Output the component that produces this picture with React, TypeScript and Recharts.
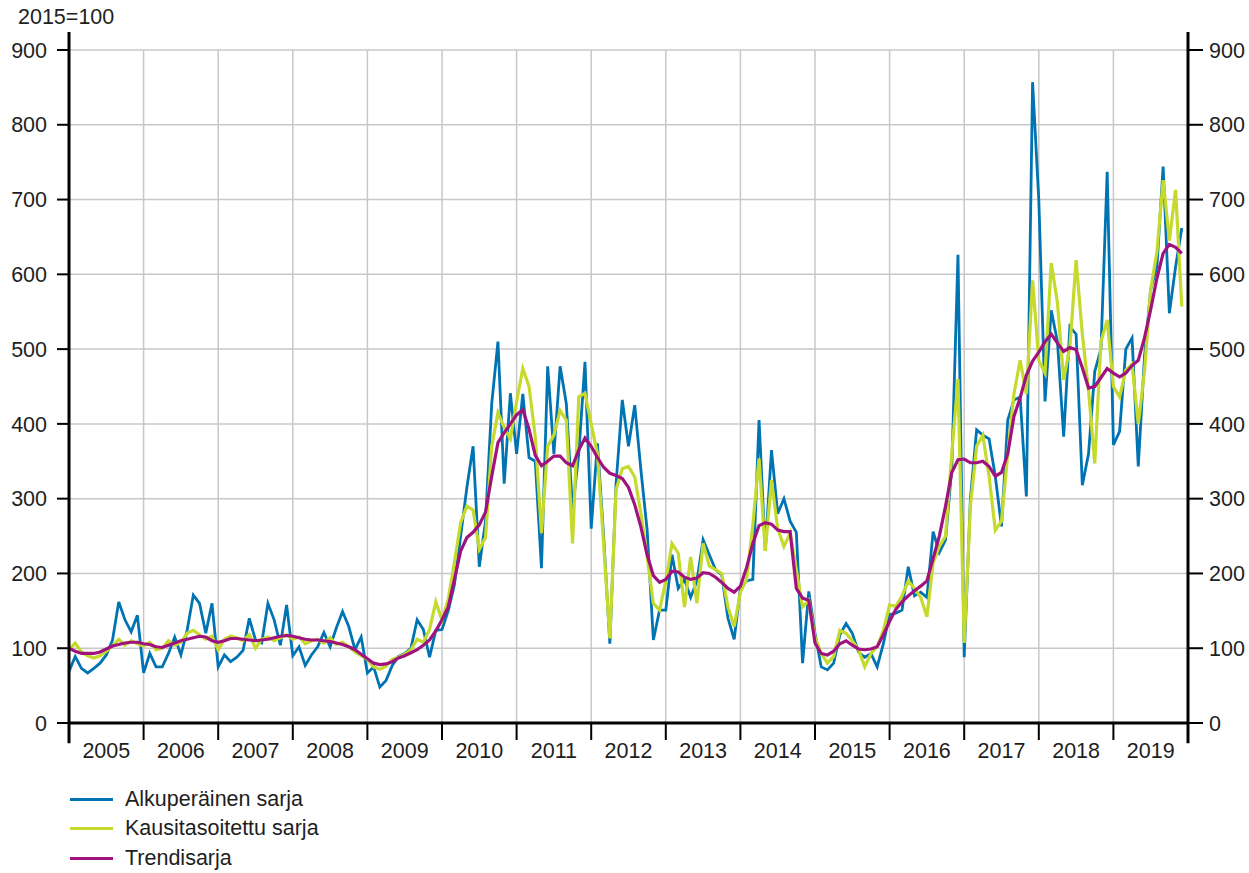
import React from "react";
import { LineChart, Line, XAxis, YAxis, CartesianGrid, ReferenceLine, Legend } from "recharts";

const years = ["2005", "2006", "2007", "2008", "2009", "2010", "2011", "2012", "2013", "2014", "2015", "2016", "2017", "2018", "2019"];
const valueTicks = [0, 100, 200, 300, 400, 500, 600, 700, 800, 900];

// monthly values, Jan 2005 .. Dec 2019
const alkuperainen = [
  69, 89, 73, 67, 73, 80, 91, 111, 162, 138, 122, 144,
  67, 93, 75, 75, 93, 115, 91, 124, 171, 160, 120, 160,
  75, 91, 82, 88, 97, 140, 111, 107, 160, 138, 104, 158,
  90, 102, 77, 91, 102, 121, 102, 127, 149, 129, 98, 115,
  67, 75, 48, 57, 77, 89, 93, 100, 138, 125, 88, 124,
  125, 150, 185, 250, 315, 370, 209, 270, 427, 510, 320, 441,
  360, 440, 355, 350, 207, 477, 360, 477, 427, 285, 360, 483,
  260, 374, 250, 106, 320, 432, 370, 425, 338, 258, 111, 151,
  151, 225, 180, 192, 168, 190, 245, 225, 205, 198, 140, 112,
  180, 190, 192, 405, 230, 365, 280, 300, 270, 255, 80, 176,
  120, 75, 71, 80, 118, 133, 120, 95, 88, 93, 75, 106,
  145, 147, 151, 209, 170, 175, 168, 256, 228, 245, 340, 626,
  88, 300, 392, 385, 380, 330, 263, 405, 432, 436, 303, 857,
  700, 430, 552, 510, 383, 530, 520, 318, 360, 470, 500, 737,
  372, 390, 500, 515, 343, 490, 580, 610, 744, 548, 610, 662,
];

const kausitasoitettu = [
  98, 107, 95, 90, 87, 90, 96, 103, 112, 104, 110, 106,
  103, 108, 98, 100, 110, 104, 108, 120, 124, 118, 112, 116,
  98, 112, 116, 114, 110, 118, 100, 112, 115, 110, 114, 118,
  112, 115, 106, 110, 112, 107, 114, 105, 108, 102, 95, 90,
  85, 75, 72, 76, 85, 88, 92, 98, 112, 108, 125, 162,
  138, 165, 215, 268, 290, 285, 232, 248, 370, 415, 395, 380,
  430, 474, 450, 383, 254, 370, 385, 418, 405, 240, 436, 441,
  400, 360, 240, 113, 312, 340, 343, 329, 280, 222, 160, 151,
  190, 240, 227, 155, 222, 160, 240, 210, 205, 200, 155, 129,
  175, 192, 265, 354, 230, 325, 260, 236, 254, 205, 155, 164,
  115, 93, 80, 89, 124, 120, 110, 98, 75, 93, 102, 124,
  158, 156, 170, 190, 180, 168, 142, 214, 236, 250, 360, 460,
  107, 290, 370, 385, 330, 258, 270, 360, 440, 485, 440, 592,
  485, 468, 615, 562, 459, 503, 619, 520, 445, 347, 510, 539,
  450, 436, 472, 480, 400, 470, 580, 630, 726, 645, 713, 557,
];

const trendi = [
  100, 96, 93, 93, 93, 95, 99, 103, 105, 107, 108, 108,
  106, 105, 102, 101, 104, 107, 110, 112, 114, 116, 115, 110,
  108, 110, 113, 113, 112, 111, 110, 111, 112, 114, 116, 117,
  116, 114, 112, 111, 111, 110, 109, 107, 105, 102, 98, 92,
  86, 80, 78, 79, 82, 87, 90, 94, 98, 104, 111, 123,
  138, 155, 192, 230, 248, 255, 265, 282, 330, 375, 388, 400,
  412, 419, 393, 358, 344, 350, 357, 357, 348, 344, 365, 381,
  370, 355, 342, 334, 331, 327, 315, 292, 262, 225, 197, 188,
  192, 203, 202, 195, 192, 194, 201, 200, 195, 188, 180, 175,
  183, 208, 240, 264, 268, 266, 258, 256, 256, 180, 167, 164,
  107, 93, 91, 96, 106, 110, 104, 99, 98, 99, 102, 118,
  136, 152, 162, 170, 177, 183, 190, 220, 250, 290, 335, 352,
  353, 348, 348, 350, 343, 330, 335, 360, 410, 435, 465, 484,
  496, 510, 520, 508, 497, 502, 499, 475, 448, 450, 462, 474,
  468, 463, 468, 478, 485, 515, 553, 595, 628, 640, 636, 628,
];

const FONT = "'Liberation Sans', Arial, sans-serif";
const TEXT = "#1e1e1e";
const BLUE = "#0073b3";
const LIME = "#c5da2c";
const PURPLE = "#a0137f";

const months = years.length * 12;
const data = trendi.map((t, i) => ({
  i,
  alku: alkuperainen[i],
  kausi: kausitasoitettu[i],
  trendi: t,
}));
const yearTicks = [...years.map((_, k) => k * 12), months];
const labelTicks = years.map((_, k) => k * 12 + 6);

const tickFont = { fontSize: 21.5, fill: TEXT, fontFamily: FONT };

function LegendBox({ payload }: any) {
  return (
    <div style={{ paddingLeft: 70, height: 88, fontFamily: FONT, fontSize: 21.5, color: TEXT }}>
      {(payload || []).map((entry: any) => (
        <div key={entry.value} style={{ display: "flex", alignItems: "center", height: 29.3 }}>
          <span
            style={{ display: "inline-block", width: 43, height: 3, background: entry.color, marginRight: 12 }}
          />
          <span>{entry.value}</span>
        </div>
      ))}
    </div>
  );
}

export default function App() {
  return (
    <div style={{ position: "absolute", left: 0, top: 0, width: 1249, height: 873, background: "#fff" }}>
      <div style={{ position: "absolute", left: 18, top: 5, fontFamily: FONT, fontSize: 21.5, color: TEXT }}>
        2015=100
      </div>
      <LineChart width={1249} height={873} data={data} margin={{ top: 50, right: 0, bottom: 0, left: 0 }}>
        <CartesianGrid xAxisId="grid" yAxisId="left" stroke="#c8c8c8" strokeWidth={1.5} />
        <XAxis
          xAxisId="grid"
          dataKey="i"
          type="number"
          domain={[0, months]}
          ticks={yearTicks}
          allowDataOverflow
          interval={0}
          height={20}
          tick={tickFont}
          tickFormatter={() => ""}
          tickSize={17}
          tickLine={{ stroke: "#000", strokeWidth: 2 }}
          axisLine={{ stroke: "#000", strokeWidth: 3 }}
        />
        <XAxis
          xAxisId="label"
          dataKey="i"
          type="number"
          domain={[0, months]}
          ticks={labelTicks}
          allowDataOverflow
          interval={0}
          height={42}
          tickLine={false}
          axisLine={false}
          tickSize={0}
          tickMargin={0}
          tick={tickFont}
          tickFormatter={(v: number) => years[(v - 6) / 12]}
        />
        <YAxis
          yAxisId="left"
          domain={[0, 900]}
          ticks={valueTicks}
          allowDataOverflow
          interval={0}
          width={69}
          tickSize={12}
          tickMargin={10}
          axisLine={false}
          tickLine={{ stroke: "#000", strokeWidth: 2 }}
          tick={tickFont}
        />
        <YAxis
          yAxisId="right"
          orientation="right"
          domain={[0, 900]}
          ticks={valueTicks}
          allowDataOverflow
          interval={0}
          width={61}
          tickSize={15}
          tickMargin={6}
          axisLine={false}
          tickLine={{ stroke: "#000", strokeWidth: 2 }}
          tick={tickFont}
        />
        <Line
          xAxisId="grid"
          yAxisId="left"
          name="Alkuperäinen sarja"
          dataKey="alku"
          type="linear"
          stroke={BLUE}
          strokeWidth={2.8}
          dot={false}
          isAnimationActive={false}
        />
        <Line
          xAxisId="label"
          yAxisId="left"
          name="Kausitasoitettu sarja"
          dataKey="kausi"
          type="linear"
          stroke={LIME}
          strokeWidth={3.2}
          dot={false}
          isAnimationActive={false}
        />
        <Line
          xAxisId="grid"
          yAxisId="right"
          name="Trendisarja"
          dataKey="trendi"
          type="linear"
          stroke={PURPLE}
          strokeWidth={3.2}
          dot={false}
          isAnimationActive={false}
        />
        <ReferenceLine
          xAxisId="grid"
          yAxisId="left"
          segment={[{ x: 0, y: -27 }, { x: 0, y: 924 }]}
          stroke="#000"
          strokeWidth={3}
          ifOverflow="visible"
        />
        <ReferenceLine
          xAxisId="grid"
          yAxisId="left"
          segment={[{ x: months, y: -27 }, { x: months, y: 924 }]}
          stroke="#000"
          strokeWidth={3}
          ifOverflow="visible"
        />
        <Legend verticalAlign="bottom" align="left" layout="horizontal" content={<LegendBox />} />
      </LineChart>
    </div>
  );
}
